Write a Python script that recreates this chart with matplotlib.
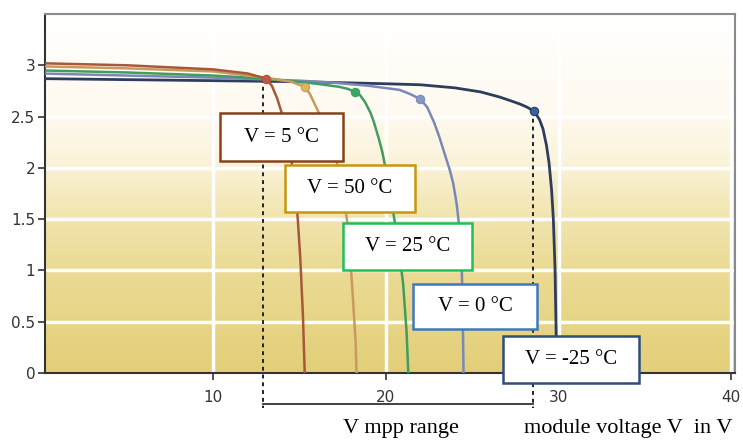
import numpy as np
import matplotlib
matplotlib.use("Agg")
import matplotlib.pyplot as plt
from matplotlib.colors import LinearSegmentedColormap
from matplotlib.patches import Rectangle

# I-V curves (voltage V, current A)
v_5 = [0, 5, 10, 12, 13.06, 13.4, 13.7, 14.0, 14.3, 14.55, 14.75, 14.9,
       15.05, 15.2, 15.3]
i_5 = [3.02, 3.00, 2.96, 2.92, 2.87, 2.80, 2.68, 2.52, 2.30, 2.05, 1.78,
       1.50, 1.10, 0.55, 0]

v_50 = [0, 5, 10, 13, 14.5, 15.3, 15.6, 16.0, 16.3, 16.6, 17.0, 17.2, 17.5,
        17.75, 17.95, 18.1, 18.25, 18.3]
i_50 = [2.99, 2.97, 2.94, 2.88, 2.84, 2.79, 2.72, 2.58, 2.47, 2.35, 2.15,
        2.03, 1.78, 1.49, 1.10, 0.71, 0.30, 0]

v_25 = [0, 5, 10, 13, 16, 17.3, 17.8, 18.2, 18.5, 18.8, 19.1, 19.3, 19.6,
        19.8, 20.1, 20.3, 20.5, 20.8, 21.0, 21.2, 21.3]
i_25 = [2.95, 2.93, 2.90, 2.87, 2.82, 2.79, 2.77, 2.74, 2.71, 2.64, 2.54,
        2.45, 2.28, 2.15, 1.90, 1.70, 1.49, 1.15, 0.87, 0.40, 0]

v_0 = [0, 5, 10, 15, 17, 19, 20.8, 21.4, 22.0, 22.4, 22.8, 23.1, 23.4, 23.7,
       23.9, 24.1, 24.3, 24.4, 24.45, 24.5]
i_0 = [2.92, 2.90, 2.88, 2.85, 2.83, 2.80, 2.76, 2.72, 2.67, 2.59, 2.44,
       2.30, 2.14, 1.98, 1.85, 1.65, 1.35, 1.00, 0.60, 0]

v_m25 = [0, 5, 10, 15, 20, 22, 24, 25.5, 26.6, 27.3, 27.8, 28.2, 28.6, 28.9,
         29.1, 29.3, 29.45, 29.6, 29.7, 29.8, 29.85, 29.9]
i_m25 = [2.87, 2.86, 2.85, 2.84, 2.82, 2.81, 2.78, 2.74, 2.69, 2.65, 2.62,
         2.59, 2.55, 2.47, 2.38, 2.22, 2.05, 1.78, 1.50, 1.00, 0.50, 0]

# maximum power points
mpp_v = [13.06, 15.3, 18.2, 22.0, 28.6]
mpp_i = [2.87, 2.79, 2.74, 2.67, 2.55]

labels = ["V = 5 °C", "V = 50 °C", "V = 25 °C", "V = 0 °C", "V = -25 °C"]
mpp_range = [12.9, 28.5]

x_ticks = [10, 20, 30, 40]
y_ticks = [0, 0.5, 1, 1.5, 2, 2.5, 3]
y_ticklabels = ["0", "0.5", "1", "1.5", "2", "2.5", "3"]

line_colors = ["#a8583a", "#c99a5e", "#3f9e5e", "#7a88b8", "#2c3d5e"]
marker_colors = ["#c9524a", "#e3b35a", "#3aa564", "#8a98c8", "#3564a0"]
box_colors = ["#86421a", "#c8960c", "#1fbf5a", "#3f78bd", "#2e4d78"]
# label boxes (x0, x1, y0, y1) in data units
boxes = [(10.39, 17.51, 2.07, 2.53),
         (14.16, 21.69, 1.57, 2.03),
         (17.52, 24.99, 1.00, 1.46),
         (21.57, 28.75, 0.43, 0.87),
         (26.78, 34.65, -0.10, 0.36)]

fig = plt.figure(figsize=(7.43, 4.41), dpi=100)
ax = fig.add_axes([45 / 743, 68 / 441, 690 / 743, 359 / 441])
xlim = (0.26, 40.22)
ylim = (0, 3.5)
ax.set_xlim(*xlim)
ax.set_ylim(*ylim)

# background gradient: yellow at bottom fading to white at top
cmap = LinearSegmentedColormap.from_list(
    "bg", [(0.0, "#e3cf78"), (0.3, "#ebdb96"), (0.45, "#f2e6b2"),
           (0.58, "#faf2d8"), (0.72, "#fffaf0"), (1.0, "#ffffff")])
grad = np.linspace(0, 1, 256).reshape(-1, 1)
ax.imshow(grad, cmap=cmap, origin="lower", aspect="auto",
          extent=[xlim[0], xlim[1], ylim[0], ylim[1]], zorder=0)

for x in x_ticks:
    ax.axvline(x, color="white", lw=2.5, zorder=1)
for y in y_ticks[1:-1]:
    ax.axhline(y, color="white", lw=2.5, zorder=1)

curves = [(v_5, i_5), (v_50, i_50), (v_25, i_25), (v_0, i_0), (v_m25, i_m25)]
for k, (v, i) in enumerate(curves):
    lw = 2.0 if k == 4 else 1.8
    ax.plot(v, i, color=line_colors[k], lw=lw, zorder=3 + (4 - k) * 0.1,
            solid_capstyle="round", solid_joinstyle="round")
    ax.plot(mpp_v[k], mpp_i[k], "o", ms=6, color=marker_colors[k],
            mec=line_colors[k], mew=0.8, zorder=5)

# mpp range bracket
for xv, yv in zip(mpp_range, [mpp_i[0], mpp_i[4]]):
    ax.plot([xv, xv], [yv, -0.34], color="#222222", lw=1.4,
            ls=(0, (2, 2)), zorder=4, clip_on=False)
ax.plot(mpp_range, [-0.30, -0.30], color="#333333", lw=1.3, clip_on=False,
        zorder=4)

for k, (x0, x1, y0, y1) in enumerate(boxes):
    ax.add_patch(Rectangle((x0, y0), x1 - x0, y1 - y0, facecolor="white",
                           edgecolor=box_colors[k], lw=1.8, zorder=6,
                           clip_on=False))
    ax.text((x0 + x1) / 2, (y0 + y1) / 2, labels[k], ha="center",
            va="center", fontsize=15, family="Liberation Serif", zorder=7)

ax.set_xticks(x_ticks)
ax.set_xticklabels([str(x) for x in x_ticks], fontsize=11, color="#333333")
ax.set_yticks(y_ticks)
ax.set_yticklabels(y_ticklabels, fontsize=11, color="#333333")
ax.tick_params(axis="both", length=5, width=1.2, color="#333333")
ax.tick_params(axis="x", pad=7)
ax.tick_params(axis="y", pad=2)

for s in ["left", "bottom"]:
    ax.spines[s].set_color("#333333")
    ax.spines[s].set_linewidth(1.5)
for s in ["top", "right"]:
    ax.spines[s].set_color("#8a8a8a")
    ax.spines[s].set_linewidth(1.5)

fig.text(401 / 743, 1 - 428 / 441, "V mpp range", ha="center", va="center",
         fontsize=16, family="Liberation Serif")
fig.text(628 / 743, 1 - 428 / 441, "module voltage V  in V", ha="center",
         va="center", fontsize=16, family="Liberation Serif")

fig.savefig("out.png", dpi=100)
